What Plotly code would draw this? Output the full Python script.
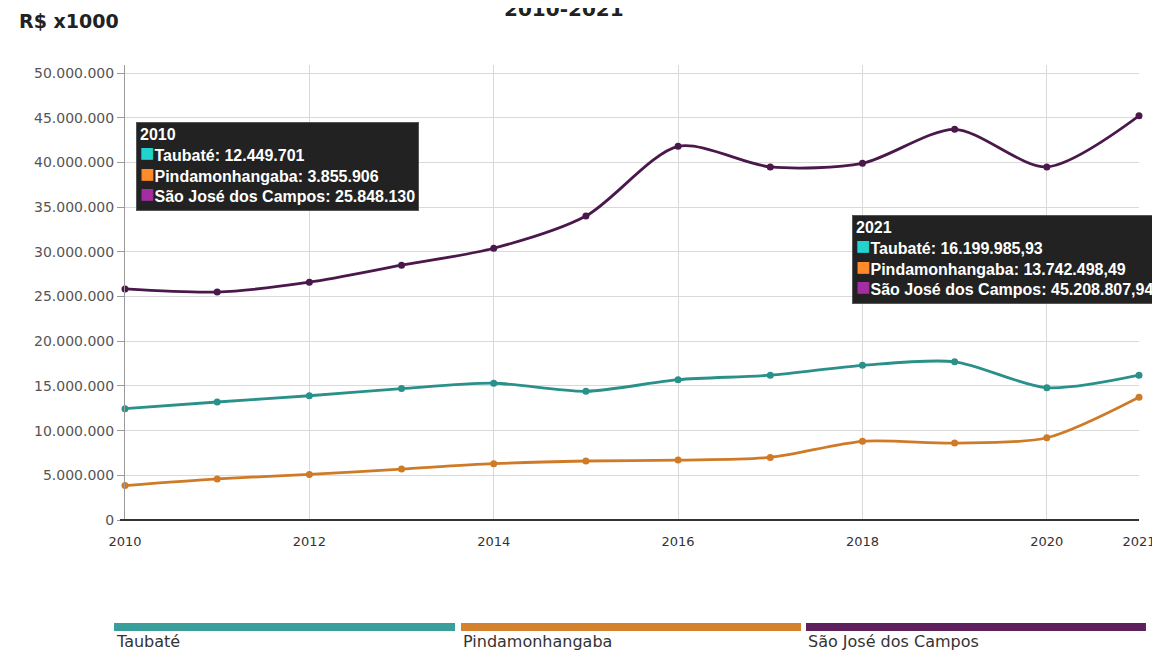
import plotly.graph_objects as go

years = [2010, 2011, 2012, 2013, 2014, 2015, 2016, 2017, 2018, 2019, 2020, 2021]
series_names = ["Taubaté", "Pindamonhangaba", "São José dos Campos"]
taubate = [12449701, 13200000, 13900000, 14700000, 15300000, 14400000, 15700000,
           16200000, 17300000, 17700000, 14800000, 16199985.93]
pinda = [3855906, 4600000, 5100000, 5700000, 6300000, 6600000, 6700000,
         7000000, 8800000, 8600000, 9200000, 13742498.49]
sjc = [25848130, 25500000, 26600000, 28500000, 30400000, 34000000, 41800000,
       39500000, 39900000, 43700000, 39500000, 45208807.94]
x_tick_vals = [2010, 2012, 2014, 2016, 2018, 2020, 2021]
x_tick_text = ["2010", "2012", "2014", "2016", "2018", "2020", "2021"]
y_tick_vals = [0, 5e6, 10e6, 15e6, 20e6, 25e6, 30e6, 35e6, 40e6, 45e6, 50e6]

line_colors = ["#2a908a", "#cf7a26", "#4a184a"]
bar_colors = ["#3a9f9a", "#d5822f", "#5f215d"]
tip_colors = ["#22d3d0", "#ff8a2a", "#a32ea3"]
all_series = [taubate, pinda, sjc]

OFF = 8       # page body margin
SX = 0.993    # observed horizontal scale of the page photo


def fx(p):  # screen x -> figure x
    return (p - OFF) / SX


def fy(p):  # screen y -> figure y
    return p - OFF


W, H = 1160, 653 - OFF
S_L, S_R, S_T, S_B = 124, 1141, 65, 520
L, T = fx(S_L), fy(S_T)
R = W - fx(S_R)
B = H - fy(S_B)
PW, PH = W - L - R, H - T - B


def px_x(p):
    return (fx(p) - L) / PW


def px_y(p):
    return (H - B - fy(p)) / PH


def br(v):
    if abs(v - round(v)) > 1e-6:
        s = f"{v:,.2f}"
    else:
        s = f"{int(round(v)):,d}"
    return s.replace(",", "#").replace(".", ",").replace("#", ".")


fig = go.Figure()
for name, vals, c in zip(series_names, all_series, line_colors):
    fig.add_trace(go.Scatter(
        x=years, y=vals, name=name, mode="lines+markers",
        line=dict(color=c, width=2.8, shape="spline", smoothing=0.8),
        marker=dict(color=c, size=7), cliponaxis=False, showlegend=False))

font = "DejaVu Sans, Liberation Sans, Arial, sans-serif"
tipfont = "Liberation Sans, Arial, sans-serif"
fig.update_layout(
    width=W, height=H, margin=dict(l=L, r=R, t=T, b=B),
    paper_bgcolor="white", plot_bgcolor="white",
    separators=",.",
    font=dict(family=font, color="#444", size=12),
    xaxis=dict(range=[2010, 2021], tickvals=x_tick_vals, ticktext=x_tick_text,
               showgrid=True, gridcolor="#d9d9d9", gridwidth=1,
               zeroline=False, showline=False, ticks="", ticklabelstandoff=12,
               tickfont=dict(size=13, color="#333")),
    yaxis=dict(range=[0, 50.9e6], tickvals=y_tick_vals, tickformat=",d",
               showgrid=True, gridcolor="#d9d9d9", gridwidth=1,
               zeroline=False, showline=True, linecolor="#9a9a9a", linewidth=1,
               ticks="outside", ticklen=7, tickcolor="#9a9a9a",
               tickfont=dict(size=14, color="#555")),
)

shapes = []
shapes.append(dict(type="line", xref="paper", yref="paper", x0=-0.005, x1=1.0, y0=0, y1=0,
                   line=dict(color="#333", width=2)))

annotations = []
annotations.append(dict(text="<b>R$ x1000</b>", xref="paper", yref="paper",
                        x=px_x(16), y=px_y(21), xanchor="left", yanchor="middle",
                        showarrow=False, font=dict(size=19, color="#222", family=font)))
annotations.append(dict(text="<b>2010-2021</b>", xref="paper", yref="paper",
                        x=px_x(564), y=px_y(9), xanchor="center", yanchor="middle",
                        showarrow=False, font=dict(size=20, color="#222", family=font)))

bar_x = [(113, 455), (461, 802), (807, 1148)]
for (x0, x1), c, name in zip(bar_x, bar_colors, series_names):
    shapes.append(dict(type="rect", xref="paper", yref="paper",
                       x0=px_x(x0), x1=px_x(x1), y0=px_y(631), y1=px_y(623),
                       fillcolor=c, line=dict(color=c, width=0)))
    annotations.append(dict(text=name, xref="paper", yref="paper",
                            x=px_x(x0), y=px_y(641), xanchor="left", yanchor="middle",
                            showarrow=False, font=dict(size=16, color="#333", family=font)))


def tooltip(idx, left_px, top_px):
    lines = [f"<b>{years[idx]}</b>"]
    for name, vals, c in zip(series_names, all_series, tip_colors):
        lines.append(f"<span style='color:{c};font-size:24px'>■</span><b>{name}: {br(vals[idx])}</b>")
    annotations.append(dict(text="<br>".join(lines), xref="paper", yref="paper",
                            x=px_x(left_px), y=px_y(top_px), xanchor="left", yanchor="top",
                            align="left", showarrow=False,
                            bgcolor="rgba(22,22,22,0.95)", bordercolor="#555", borderwidth=1,
                            borderpad=3,
                            font=dict(size=16, color="white", family=tipfont)))


tooltip(0, 135, 122)
tooltip(11, 853, 215)

fig.update_layout(shapes=shapes, annotations=annotations)
fig.write_html("out.html")
